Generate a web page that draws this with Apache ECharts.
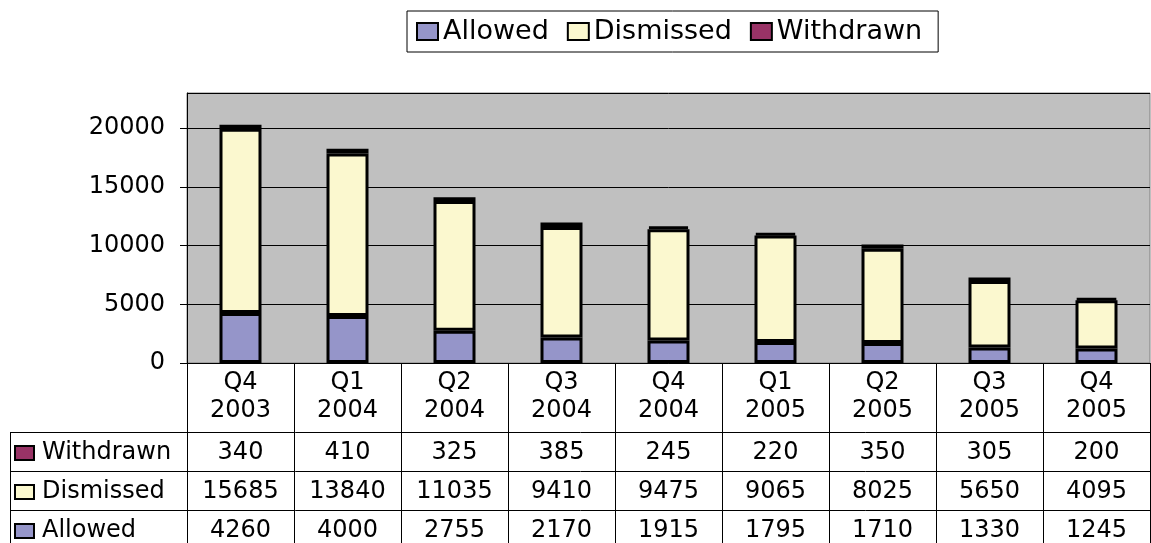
<!DOCTYPE html>
<html><head><meta charset="utf-8">
<script src="https://cdn.jsdelivr.net/npm/echarts@6/dist/echarts.min.js"></script>
<style>html,body{margin:0;padding:0;background:#fff}#c{width:1151px;height:543px}</style>
</head><body><div id="c"></div>
<script>
var categories = ['Q4\n2003','Q1\n2004','Q2\n2004','Q3\n2004','Q4\n2004','Q1\n2005','Q2\n2005','Q3\n2005','Q4\n2005'];
var allowed = [4260,4000,2755,2170,1915,1795,1710,1330,1245];
var dismissed = [15685,13840,11035,9410,9475,9065,8025,5650,4095];
var withdrawn = [340,410,325,385,245,220,350,305,200];
var yTicks = [0,5000,10000,15000,20000];

var colors = {Allowed:'#9595C9', Dismissed:'#FBF8CF', Withdrawn:'#993366'};
var FONT = '"DejaVu Sans", Verdana, sans-serif';
var chart = echarts.init(document.getElementById('c'), null, {renderer:'canvas'});

function ser(name, data){
  return {name:name, type:'bar', stack:'s', data:data, barWidth:42,
    itemStyle:{color:colors[name], borderColor:'#000', borderWidth:3}};
}

chart.setOption({
  animation:false,
  textStyle:{fontFamily:FONT},
  legend:{
    left:407, top:11, itemWidth:21, itemHeight:17, icon:'rect', itemGap:18,
    borderColor:'#000', borderWidth:1, padding:[7,16,7,9],
    textStyle:{fontSize:27, fontFamily:FONT, color:'#000'},
    itemStyle:{borderColor:'#000', borderWidth:2},
    data:['Allowed','Dismissed','Withdrawn']
  },
  grid:{left:187, right:1, top:93, bottom:180, show:true, backgroundColor:'#C0C0C0', borderColor:'#808080', borderWidth:1},
  xAxis:{type:'category', data:categories,
    axisLine:{lineStyle:{color:'#000', width:1}}, axisTick:{show:false},
    axisLabel:{fontSize:24, lineHeight:28, color:'#000', margin:6, fontFamily:FONT}},
  yAxis:{type:'value', min:0, max:23000, interval:5000,
    axisLine:{show:true, lineStyle:{color:'#000'}},
    axisTick:{show:true, length:7, lineStyle:{color:'#000'}},
    axisLabel:{fontSize:24, color:'#000', margin:22, showMaxLabel:false, fontFamily:FONT,
      formatter:function(v){ return String(v); }},
    splitLine:{lineStyle:{color:'#000', width:1}}},
  series:[ser('Allowed', allowed), ser('Dismissed', dismissed), ser('Withdrawn', withdrawn)]
});

// data table below the axis, positioned from the category axis scale
var rows = [['Withdrawn', withdrawn], ['Dismissed', dismissed], ['Allowed', allowed]];
var c0 = chart.convertToPixel({xAxisIndex:0}, 0);
var c1 = chart.convertToPixel({xAxisIndex:0}, 1);
var band = c1 - c0;
var yBase = chart.convertToPixel({yAxisIndex:0}, 0);
var headerBottom = 432, rowH = 39, tableLeft = 10, W = 1151, H = 543;
var els = [];
var lineStyle = {stroke:'#000', lineWidth:1};
for (var i = 0; i <= categories.length; i++) {
  var x = Math.round(c0 - band/2 + i*band) + 0.5;
  els.push({type:'line', shape:{x1:x, y1:yBase, x2:x, y2:H}, style:lineStyle, silent:true});
}
var xl = tableLeft + 0.5;
els.push({type:'line', shape:{x1:xl, y1:headerBottom, x2:xl, y2:H}, style:lineStyle, silent:true});
for (var r = 0; r < rows.length; r++) {
  var y = headerBottom + r*rowH + 0.5;
  els.push({type:'line', shape:{x1:tableLeft, y1:y, x2:W, y2:y}, style:lineStyle, silent:true});
}
rows.forEach(function(row, r){
  var cy = headerBottom + r*rowH + 21;
  els.push({type:'rect', shape:{x:15, y:cy-7, width:19, height:14},
    style:{fill:colors[row[0]], stroke:'#000', lineWidth:2}, silent:true});
  els.push({type:'text', x:42, y:cy, style:{text:row[0], font:'24px '+FONT, fill:'#000', textVerticalAlign:'middle', textAlign:'left'}, silent:true});
  row[1].forEach(function(v, i){
    var cx = chart.convertToPixel({xAxisIndex:0}, i);
    els.push({type:'text', x:cx, y:cy, style:{text:String(v), font:'24px '+FONT, fill:'#000', textAlign:'center', textVerticalAlign:'middle'}, silent:true});
  });
});
chart.setOption({graphic:{elements:els}});
</script></body></html>
